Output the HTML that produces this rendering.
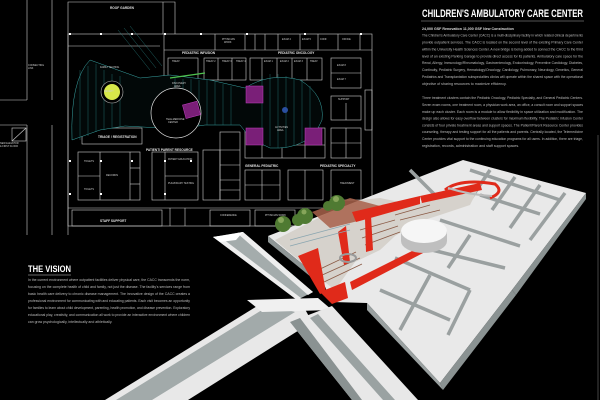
<!DOCTYPE html>
<html><head><meta charset="utf-8"><style>
html,body{margin:0;padding:0;background:#000;}
svg{display:block;}
text{font-family:"Liberation Sans",sans-serif;}
</style></head><body>
<svg width="600" height="400" viewBox="0 0 600 400" xmlns="http://www.w3.org/2000/svg">
<rect width="600" height="400" fill="#000"/>

<!-- ===== Floor plan ===== -->
<g stroke="#cfcfcf" stroke-width="0.6" fill="none">
  <line x1="27" y1="0" x2="27" y2="100"/><line x1="52" y1="0" x2="52" y2="100"/>
  <line x1="0" y1="100" x2="27" y2="100"/><line x1="0" y1="125" x2="27" y2="125"/>
  <line x1="27" y1="125" x2="27" y2="235"/><line x1="52" y1="125" x2="52" y2="235"/>
  <rect x="12" y="128" width="14" height="13"/>
  <line x1="12" y1="141" x2="26" y2="128"/>
  <polyline points="68,235 68,2 175,2 175,34"/>
  <line x1="163" y1="2" x2="163" y2="34"/>
  <rect x="68" y="34" width="304" height="192"/>
  <line x1="68" y1="46" x2="160" y2="46"/>
  <line x1="164" y1="50" x2="372" y2="50"/>
  <line x1="164" y1="34" x2="164" y2="80"/>
  <line x1="215" y1="34" x2="215" y2="50"/><line x1="245" y1="34" x2="245" y2="50"/>
  <line x1="255" y1="34" x2="255" y2="50"/><line x1="265" y1="34" x2="265" y2="50"/>
  <line x1="278" y1="34" x2="278" y2="50"/><line x1="300" y1="34" x2="300" y2="50"/>
  <line x1="318" y1="34" x2="318" y2="50"/><line x1="338" y1="34" x2="338" y2="50"/>
  <line x1="360" y1="34" x2="360" y2="50"/>
  <rect x="168" y="58" width="30" height="22"/><rect x="204" y="58" width="42" height="22"/>
  <rect x="250" y="58" width="72" height="22"/>
  <line x1="218" y1="58" x2="218" y2="80"/><line x1="232" y1="58" x2="232" y2="80"/>
  <line x1="262" y1="58" x2="262" y2="80"/><line x1="277" y1="58" x2="277" y2="80"/>
  <line x1="292" y1="58" x2="292" y2="80"/><line x1="307" y1="58" x2="307" y2="80"/>
  <rect x="331" y="58" width="30" height="30"/><line x1="331" y1="73" x2="361" y2="73"/>
  <rect x="331" y="96" width="30" height="24"/><line x1="346" y1="103" x2="346" y2="120"/>
  <rect x="331" y="128" width="30" height="30"/><line x1="346" y1="128" x2="346" y2="158"/><line x1="331" y1="143" x2="361" y2="143"/>
  <rect x="331" y="170" width="30" height="30"/>
  <rect x="365" y="90" width="7" height="40"/>
  <rect x="245" y="128" width="80" height="30"/>
  <line x1="262" y1="145" x2="325" y2="145"/><line x1="262" y1="128" x2="262" y2="158"/>
  <line x1="282" y1="145" x2="282" y2="158"/><line x1="305" y1="128" x2="305" y2="158"/>
  <rect x="245" y="170" width="35" height="30"/><line x1="262" y1="170" x2="262" y2="200"/><line x1="245" y1="185" x2="280" y2="185"/>
  <rect x="288" y="170" width="35" height="30"/><line x1="305" y1="170" x2="305" y2="200"/>
  <rect x="220" y="132" width="20" height="68"/><line x1="220" y1="150" x2="240" y2="150"/><line x1="220" y1="165" x2="240" y2="165"/><line x1="220" y1="180" x2="240" y2="180"/><line x1="220" y1="190" x2="240" y2="190"/>
  <rect x="203" y="150" width="17" height="50"/>
  <rect x="78" y="152" width="62" height="48"/><line x1="100" y1="152" x2="100" y2="200"/><line x1="130" y1="152" x2="130" y2="200"/>
  <line x1="78" y1="176" x2="100" y2="176"/><line x1="130" y1="168" x2="140" y2="168"/><line x1="130" y1="184" x2="140" y2="184"/>
  <rect x="152" y="152" width="46" height="48"/><line x1="165" y1="152" x2="165" y2="200"/><line x1="165" y1="176" x2="198" y2="176"/>
  <rect x="82" y="128" width="60" height="16"/>
  <line x1="68" y1="208" x2="372" y2="208"/>
  <rect x="72" y="210" width="90" height="16"/>
  <rect x="210" y="210" width="40" height="16"/><rect x="255" y="210" width="40" height="16"/>
  <line x1="170" y1="208" x2="170" y2="226"/><line x1="185" y1="208" x2="185" y2="226"/>
</g>
<path d="M72,140 Q70,80 90,60 L140,78 L170,75 L210,80 L245,88 Q270,72 300,80 Q325,95 322,120 Q310,150 270,148 Q250,140 240,125 L205,125 L185,128 Q170,140 160,128 L125,126 L100,130 Z" fill="#020808" stroke="#3aa7a7" stroke-width="0.5"/>
<g stroke="#2b8f8f" stroke-width="0.35">
  <line x1="80" y1="70" x2="80" y2="140"/><line x1="88" y1="66" x2="88" y2="136"/><line x1="96" y1="64" x2="96" y2="132"/>
  <line x1="104" y1="70" x2="104" y2="130"/><line x1="112" y1="74" x2="112" y2="128"/><line x1="120" y1="76" x2="120" y2="126"/>
  <line x1="175" y1="78" x2="175" y2="128"/><line x1="183" y1="79" x2="183" y2="128"/><line x1="191" y1="79" x2="191" y2="126"/>
  <line x1="199" y1="80" x2="199" y2="126"/><line x1="207" y1="80" x2="207" y2="125"/><line x1="215" y1="82" x2="215" y2="125"/>
  <line x1="223" y1="84" x2="223" y2="125"/><line x1="231" y1="86" x2="231" y2="125"/><line x1="262" y1="76" x2="262" y2="142"/>
  <line x1="270" y1="74" x2="270" y2="146"/><line x1="278" y1="74" x2="278" y2="148"/><line x1="286" y1="76" x2="286" y2="148"/>
  <line x1="294" y1="78" x2="294" y2="146"/><line x1="302" y1="80" x2="302" y2="142"/><line x1="310" y1="86" x2="310" y2="136"/>
  <line x1="118" y1="30" x2="150" y2="70"/><line x1="124" y1="28" x2="156" y2="68"/><line x1="130" y1="26" x2="162" y2="66"/>
</g>
<circle cx="176" cy="113" r="25" fill="#000" stroke="#ddd" stroke-width="0.7"/>
<circle cx="112" cy="92" r="11" fill="#000" stroke="#bbb" stroke-width="0.6"/>
<circle cx="112" cy="92" r="8" fill="#d8e84a"/>
<circle cx="285" cy="110" r="3" fill="#2a4fa0"/>
<g fill="#7a1f78" stroke="#c040c0" stroke-width="0.5">
  <rect x="184" y="103" width="15" height="14" transform="rotate(-15 191 110)"/>
  <rect x="246" y="86" width="17" height="17"/>
  <rect x="246" y="128" width="17" height="17"/>
  <rect x="305" y="128" width="17" height="17"/>
</g>
<line x1="170" y1="78" x2="205" y2="73" stroke="#4ec24e" stroke-width="1.2"/>
<g fill="#e0e0e0" font-size="3.2" font-weight="bold">
  <text x="110" y="9">ROOF GARDEN</text>
  <text x="182" y="54">PEDIATRIC INFUSION</text>
  <text x="278" y="54">PEDIATRIC ONCOLOGY</text>
  <text x="146" y="151">PATIENT/ PARENT RESOURCE</text>
  <text x="245" y="167">GENERAL PEDIATRIC</text>
  <text x="320" y="167">PEDIATRIC SPECIALTY</text>
  <text x="100" y="222">STAFF SUPPORT</text>
  <text x="98" y="138">TRIAGE / REGISTRATION</text>
</g>
<g fill="#cfcfcf" font-size="2.4">
  <text x="28" y="66">CONNECTING</text><text x="28" y="69">LINK</text>
  <text x="0" y="144">NEW ELEVATOR</text><text x="0" y="147">&amp; FIRST FLOOR</text>
  <text x="100" y="68">FAMILY SEATING</text><text x="104" y="92">RECEPT</text>
  <text x="172" y="84">DISCOVERY</text><text x="174" y="87">AREA</text>
  <text x="166" y="120">TELE-MEDICINE</text><text x="168" y="123">CENTER</text>
  <text x="172" y="62">TREAT</text><text x="206" y="62">TREAT 2</text><text x="222" y="62">TREAT 3</text><text x="236" y="62">TREAT 4</text>
  <text x="264" y="62">EXAM 1</text><text x="280" y="62">EXAM 2</text><text x="294" y="62">EXAM 3</text><text x="310" y="62">TREAT</text>
  <text x="282" y="40">EXAM 4</text><text x="302" y="40">EXAM 5</text><text x="320" y="40">CONF</text><text x="342" y="40">OFFICE</text>
  <text x="222" y="40">PHYSICIAN</text><text x="224" y="43">WORK</text>
  <text x="337" y="66">EXAM 8</text><text x="337" y="80">EXAM 7</text><text x="338" y="100">SUPPORT</text>
  <text x="275" y="128">ACTIVITIES</text><text x="277" y="131">AREA</text>
  <text x="84" y="162">TOILETS</text><text x="84" y="190">TOILETS</text><text x="106" y="176">RECORDS</text>
  <text x="168" y="160">PATIENT EDUCATION</text><text x="168" y="184">PULMONARY TESTING</text>
  <text x="340" y="184">TREATMENT</text><text x="220" y="216">CONFERENCE</text><text x="265" y="216">PHYSICIAN WORK</text>
</g>
<g fill="#fff">
  <rect x="69" y="33" width="2" height="2"/><rect x="100" y="33" width="2" height="2"/><rect x="131" y="33" width="2" height="2"/>
  <rect x="164" y="33" width="2" height="2"/><rect x="200" y="33" width="2" height="2"/><rect x="246" y="33" width="2" height="2"/>
  <rect x="304" y="33" width="2" height="2"/><rect x="360" y="33" width="2" height="2"/>
  <rect x="69" y="160" width="2" height="2"/><rect x="100" y="160" width="2" height="2"/><rect x="131" y="160" width="2" height="2"/>
  <rect x="164" y="160" width="2" height="2"/><rect x="190" y="160" width="2" height="2"/><rect x="100" y="193" width="2" height="2"/>
  <rect x="69" y="193" width="2" height="2"/><rect x="164" y="193" width="2" height="2"/>
</g>

<!-- ===== Title block ===== -->
<text x="422" y="17" fill="#fff" font-size="10.8" font-weight="bold" textLength="161" lengthAdjust="spacingAndGlyphs">CHILDREN'S AMBULATORY CARE CENTER</text>
<line x1="421" y1="21" x2="584" y2="21" stroke="#aaa" stroke-width="0.6"/>
<g fill="#bdbdbd" font-size="3.6">
  <text x="422" y="30" font-weight="bold" fill="#ddd">24,000 GSF Renovation     11,000 GSF New Construction</text>
  <text x="422" y="36.5" textLength="161" lengthAdjust="spacingAndGlyphs">The Children's Ambulatory Care Center (CACC) is a multi-disciplinary facility in which related clinical departments</text>
  <text x="422" y="43.5" textLength="161" lengthAdjust="spacingAndGlyphs">provide outpatient services. The CACC is located on the second level of the existing Primary Care Center</text>
  <text x="422" y="50.5" textLength="161" lengthAdjust="spacingAndGlyphs">within the University Health Sciences Center. A new bridge is being added to connect the CACC to the third</text>
  <text x="422" y="57.5" textLength="161" lengthAdjust="spacingAndGlyphs">level of an existing Parking Garage to provide direct access for its patients. Ambulatory care space for the</text>
  <text x="422" y="64" textLength="161" lengthAdjust="spacingAndGlyphs">Renal, Allergy, Immunology/Rheumatology, Gastroenterology, Endocrinology, Preventive Cardiology, Diabetes,</text>
  <text x="422" y="71" textLength="161" lengthAdjust="spacingAndGlyphs">Continuity, Pediatric Surgery, Hematology/Oncology, Cardiology, Pulmonary, Neurology, Genetics, General</text>
  <text x="422" y="78" textLength="161" lengthAdjust="spacingAndGlyphs">Pediatrics and Transplantation subspecialties clinics will operate within the shared space with the operational</text>
  <text x="422" y="85">objective of sharing resources to maximize efficiency.</text>
  <text x="422" y="99" textLength="161" lengthAdjust="spacingAndGlyphs">Three treatment clusters contain the Pediatric Oncology, Pediatric Specialty, and General Pediatric Centers.</text>
  <text x="422" y="106" textLength="161" lengthAdjust="spacingAndGlyphs">Seven exam rooms, one treatment room, a physician work area, an office, a consult room and support spaces</text>
  <text x="422" y="113" textLength="161" lengthAdjust="spacingAndGlyphs">make up each cluster. Each room is a module to allow flexibility in space utilization and modification. The</text>
  <text x="422" y="119.5" textLength="161" lengthAdjust="spacingAndGlyphs">design also allows for easy overflow between clusters for maximum flexibility. The Pediatric Infusion Center</text>
  <text x="422" y="126.5" textLength="161" lengthAdjust="spacingAndGlyphs">consists of four private treatment areas and support spaces. The Patient/Parent Resource Center provides</text>
  <text x="422" y="133" textLength="161" lengthAdjust="spacingAndGlyphs">counseling, therapy and testing support for all the patients and parents. Centrally located, the Telemedicine</text>
  <text x="422" y="140" textLength="161" lengthAdjust="spacingAndGlyphs">Center provides vital support to the continuing education programs for all users. In addition, there are triage,</text>
  <text x="422" y="147">registration, records, administration and staff support spaces.</text>
</g>
<line x1="598" y1="135" x2="598" y2="400" stroke="#444" stroke-width="1"/>

<!-- ===== 3D model ===== -->
<!-- corridor B -->
<polygon points="105,400 267,300 300,300 312,322 188,400" fill="#e8e8e8"/>
<polygon points="116,400 270,305 295,312 152,400" fill="#a2aaaa"/>
<!-- corridor A upper channel -->
<polygon points="213,237 243,232 313,292 297,300" fill="#a4acac"/>
<polygon points="213,237 219,236 301,298 297,300" fill="#eeeeee"/>
<polygon points="237,233 243,232 313,292 308,295" fill="#eeeeee"/>
<polygon points="213,237 243,232 236,240 220,242" fill="#fff"/>
<polygon points="247,300 318,298 332,310 262,312" fill="#f0f0f0"/>
<!-- corridor A lower part -->
<polygon points="290,322 332,306 418,400 352,400" fill="#e8e8e8"/>
<polygon points="290,322 300,318 362,400 352,400" fill="#8a9292"/>
<polygon points="310,318 318,314 395,400 383,400" fill="#9aa2a2"/>
<!-- building block -->
<polygon points="268,236 463,160 586,193 512,290 440,383 367,303 332,302 322,280" fill="#e9e9e9"/>
<polygon points="586,193 586,199 516,295 512,290" fill="#8a9292"/>
<polygon points="512,290 516,295 443,390 440,383" fill="#8a9292"/>
<polygon points="440,383 443,390 367,310 367,303" fill="#9aa1a1"/>
<polygon points="268,236 322,280 322,286 268,242" fill="#8f9696"/>
<g stroke="#9aa0a0" stroke-width="3.5" fill="none">
  <line x1="470" y1="170" x2="560" y2="200"/>
  <line x1="480" y1="195" x2="540" y2="214"/>
  <line x1="490" y1="170" x2="470" y2="200"/>
  <line x1="515" y1="177" x2="492" y2="210"/>
  <line x1="540" y1="185" x2="510" y2="228"/>
  <line x1="565" y1="193" x2="530" y2="240"/>
  <line x1="440" y1="220" x2="520" y2="246"/>
  <line x1="432" y1="250" x2="505" y2="268"/>
  <line x1="470" y1="235" x2="448" y2="268"/>
  <line x1="395" y1="258" x2="470" y2="290"/>
  <line x1="380" y1="290" x2="450" y2="320"/>
  <line x1="430" y1="275" x2="400" y2="330"/>
  <line x1="470" y1="290" x2="448" y2="335"/>
  <line x1="410" y1="170" x2="440" y2="200"/>
</g>
<polygon points="275,240 330,212 360,200 380,198 415,205 445,190 480,185 470,205 440,215 418,222 395,236 380,250 355,262 335,290 322,280" fill="#d6d2cc"/>
<g stroke="#8a5a45" stroke-width="0.8">
  <line x1="318" y1="270" x2="356" y2="252"/><line x1="320" y1="276" x2="360" y2="258"/><line x1="324" y1="282" x2="362" y2="264"/>
  <line x1="395" y1="215" x2="430" y2="205"/><line x1="400" y1="220" x2="440" y2="210"/>
  <line x1="360" y1="230" x2="395" y2="220"/><line x1="362" y1="238" x2="398" y2="226"/><line x1="365" y1="245" x2="400" y2="232"/>
</g>
<polygon points="312,212 350,198 395,210 362,220 330,228" fill="#a8624a" opacity="0.85"/>
<g fill="#e02a1a">
  <polygon points="298,256 318,248 326,292 320,294"/>
  <polygon points="338,232 346,226 350,262 344,265"/>
  <polygon points="352,212 420,196 420,204 356,222"/>
  <polygon points="365,218 371,216 373,250 366,252"/>
  <polygon points="350,282 420,247 425,252 352,290"/>
  <polygon points="320,292 345,282 348,298 332,304"/>
  <polygon points="420,196 480,183 482,190 422,203"/>
</g>
<path d="M445,190 Q460,178 495,184 Q505,192 490,198" fill="none" stroke="#e02a1a" stroke-width="3"/>
<path d="M448,188 Q470,195 492,196" fill="none" stroke="#bbb" stroke-width="2"/>
<ellipse cx="424" cy="241" rx="23" ry="12" fill="#bfbfbf"/>
<rect x="401" y="231" width="46" height="10" fill="#bfbfbf"/>
<ellipse cx="424" cy="231" rx="23" ry="12" fill="#f6f6f6"/>
<ellipse cx="348" cy="258" rx="8" ry="4" fill="none" stroke="#999" stroke-width="2"/>
<g stroke="#8aa6b0" stroke-width="0.7">
  <line x1="290" y1="240" x2="350" y2="224"/><line x1="290" y1="246" x2="350" y2="230"/>
</g>
<g fill="#4f7a32">
  <circle cx="283" cy="224" r="8"/><circle cx="298" cy="220" r="6"/><circle cx="305" cy="216" r="8"/>
  <circle cx="337" cy="203" r="8"/><circle cx="328" cy="206" r="5"/>
</g>
<g fill="#86a55a"><circle cx="281" cy="220" r="3"/><circle cx="336" cy="199" r="3"/><circle cx="304" cy="212" r="2.5"/></g>

<!-- ===== Vision ===== -->
<text x="28" y="272" fill="#fff" font-size="9.5" font-weight="bold" textLength="43" lengthAdjust="spacingAndGlyphs">THE VISION</text>
<line x1="28" y1="275" x2="71" y2="275" stroke="#ccc" stroke-width="0.6"/>
<g fill="#bdbdbd" font-size="3.5">
  <text x="28" y="281" textLength="162" lengthAdjust="spacingAndGlyphs">In the current environment where outpatient facilities deliver physical care, the CACC transcends the norm,</text>
  <text x="28" y="288" textLength="162" lengthAdjust="spacingAndGlyphs">focusing on the complete health of child and family, not just the disease. The facility's services range from</text>
  <text x="28" y="295" textLength="162" lengthAdjust="spacingAndGlyphs">basic health care delivery to chronic disease management. The innovative design of the CACC creates a</text>
  <text x="28" y="302" textLength="162" lengthAdjust="spacingAndGlyphs">professional environment for communicating with and educating patients. Each visit becomes an opportunity</text>
  <text x="28" y="309" textLength="162" lengthAdjust="spacingAndGlyphs">for families to learn about child development, parenting, health promotion, and disease prevention. Exploratory</text>
  <text x="28" y="316" textLength="162" lengthAdjust="spacingAndGlyphs">educational play, creativity, and communication all work to provide an interactive environment where children</text>
  <text x="28" y="323">can grow psychologically, intellectually and athletically.</text>
</g>
</svg>
</body></html>
